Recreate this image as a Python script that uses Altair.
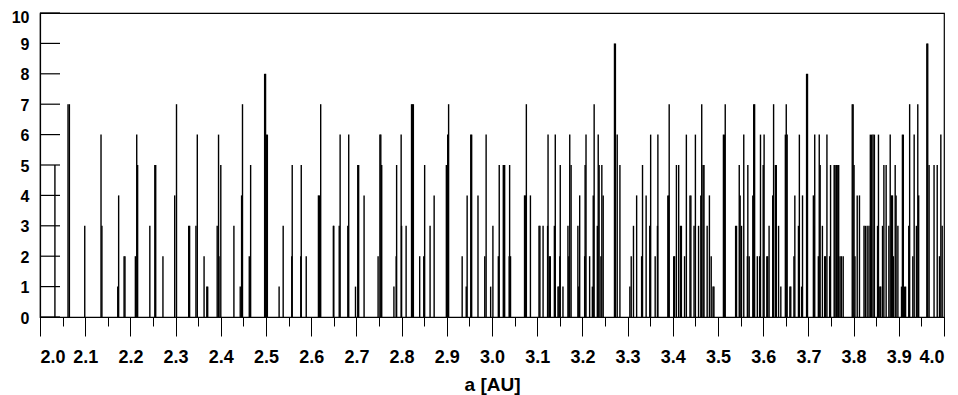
import altair as alt
import pandas as pd

# Semi-major axis positions (AU) of the spikes and their heights (counts)
A = [2.033, 2.062, 2.065, 2.099, 2.135, 2.137, 2.172, 2.174, 2.186, 2.188,
     2.211, 2.214, 2.216, 2.243, 2.254, 2.256, 2.272, 2.298, 2.302, 2.329,
     2.331, 2.345, 2.348, 2.363, 2.369, 2.371, 2.392, 2.395, 2.396, 2.400,
     2.429, 2.443, 2.446, 2.448, 2.463, 2.466, 2.497, 2.499, 2.501, 2.503,
     2.529, 2.538, 2.557, 2.558, 2.577, 2.578, 2.589, 2.616, 2.618, 2.621,
     2.649, 2.650, 2.662, 2.664, 2.681, 2.683, 2.698, 2.703, 2.705, 2.717,
     2.748, 2.752, 2.754, 2.756, 2.783, 2.788, 2.789, 2.799, 2.800, 2.810,
     2.822, 2.824, 2.826, 2.840, 2.849, 2.851, 2.863, 2.872, 2.899, 2.902,
     2.904, 2.934, 2.943, 2.945, 2.953, 2.955, 2.969, 2.984, 2.987, 2.997,
     3.002, 3.014, 3.016, 3.025, 3.028, 3.038, 3.039, 3.041, 3.072, 3.074,
     3.076, 3.085, 3.104, 3.106, 3.113, 3.123, 3.124, 3.127, 3.129, 3.138,
     3.140, 3.146, 3.148, 3.150, 3.151, 3.157, 3.168, 3.170, 3.172, 3.175,
     3.190, 3.192, 3.194, 3.205, 3.206, 3.208, 3.216, 3.222, 3.224, 3.226,
     3.233, 3.235, 3.237, 3.241, 3.243, 3.246, 3.271, 3.273, 3.277, 3.283,
     3.305, 3.308, 3.313, 3.320, 3.331, 3.333, 3.341, 3.349, 3.351, 3.361,
     3.366, 3.367, 3.389, 3.391, 3.392, 3.402, 3.404, 3.408, 3.413, 3.417,
     3.419, 3.426, 3.430, 3.438, 3.440, 3.447, 3.450, 3.457, 3.462, 3.464,
     3.467, 3.469, 3.476, 3.481, 3.485, 3.489, 3.491, 3.512, 3.514, 3.516,
     3.539, 3.541, 3.547, 3.549, 3.552, 3.557, 3.565, 3.566, 3.569, 3.577,
     3.579, 3.581, 3.587, 3.592, 3.594, 3.600, 3.602, 3.608, 3.610, 3.613,
     3.621, 3.623, 3.627, 3.629, 3.634, 3.639, 3.649, 3.651, 3.653, 3.659,
     3.661, 3.668, 3.670, 3.678, 3.680, 3.685, 3.687, 3.696, 3.698, 3.711,
     3.712, 3.714, 3.722, 3.724, 3.726, 3.731, 3.736, 3.738, 3.741, 3.747,
     3.749, 3.757, 3.759, 3.762, 3.765, 3.767, 3.770, 3.773, 3.777, 3.797,
     3.799, 3.801, 3.803, 3.808, 3.813, 3.823, 3.826, 3.830, 3.834, 3.837,
     3.840, 3.843, 3.846, 3.853, 3.855, 3.858, 3.860, 3.864, 3.867, 3.872,
     3.878, 3.881, 3.884, 3.886, 3.888, 3.892, 3.894, 3.898, 3.906, 3.908,
     3.910, 3.913, 3.915, 3.922, 3.924, 3.931, 3.934, 3.939, 3.942, 3.944,
     3.962, 3.964, 3.967, 3.978, 3.985, 3.990, 3.993, 3.996]

N = [5, 7, 7, 3, 6, 3, 1, 4, 2, 2,
     2, 6, 5, 3, 5, 5, 2, 4, 7, 3,
     3, 3, 6, 2, 1, 1, 3, 6, 2, 5,
     3, 1, 4, 7, 2, 5, 8, 8, 6, 6,
     1, 3, 2, 5, 2, 5, 2, 4, 4, 7,
     3, 3, 3, 6, 3, 6, 1, 5, 5, 4,
     2, 6, 6, 5, 1, 2, 5, 6, 3, 3,
     7, 7, 7, 2, 2, 5, 3, 4, 5, 6,
     7, 2, 1, 4, 6, 6, 4, 2, 6, 1,
     3, 2, 5, 5, 5, 2, 5, 2, 4, 4,
     7, 4, 3, 3, 3, 3, 6, 2, 2, 3,
     6, 1, 1, 2, 5, 1, 3, 2, 6, 5,
     3, 1, 4, 2, 5, 6, 2, 1, 4, 7,
     3, 6, 5, 2, 5, 4, 9, 9, 6, 5,
     1, 2, 3, 4, 2, 5, 4, 3, 6, 2,
     3, 6, 4, 4, 7, 2, 2, 5, 5, 3,
     3, 2, 6, 4, 4, 3, 6, 3, 4, 7,
     5, 5, 3, 4, 2, 1, 1, 6, 6, 7,
     3, 3, 5, 4, 3, 6, 2, 5, 2, 4,
     7, 7, 2, 2, 6, 5, 6, 2, 2, 3,
     4, 7, 5, 5, 3, 1, 6, 7, 6, 1,
     1, 2, 4, 3, 6, 1, 4, 8, 8, 4,
     3, 6, 2, 6, 5, 3, 2, 2, 6, 2,
     5, 5, 5, 5, 5, 5, 2, 2, 2, 7,
     7, 5, 2, 4, 4, 3, 3, 3, 3, 6,
     6, 6, 6, 3, 6, 1, 1, 3, 5, 5,
     3, 6, 4, 4, 2, 5, 4, 3, 1, 6,
     6, 1, 1, 3, 7, 2, 6, 3, 7, 4,
     9, 9, 5, 5, 5, 2, 6, 3]

Y_TICKS = [0, 1, 2, 3, 4, 5, 6, 7, 8, 9, 10]
X_TICKS = [2.0, 2.05, 2.1, 2.15, 2.2, 2.25, 2.3, 2.35, 2.4, 2.45,
           2.5, 2.55, 2.6, 2.65, 2.7, 2.75, 2.8, 2.85, 2.9, 2.95,
           3.0, 3.05, 3.1, 3.15, 3.2, 3.25, 3.3, 3.35, 3.4, 3.45,
           3.5, 3.55, 3.6, 3.65, 3.7, 3.75, 3.8, 3.85, 3.9, 3.95, 4.0]

df = pd.DataFrame({"a": A, "n": N})
ticks_df = pd.DataFrame({"v": Y_TICKS})

FONT = "Liberation Sans"
x_scale = alt.Scale(domain=[2.0, 4.0], nice=False, zero=False)
y_scale = alt.Scale(domain=[0, 10], nice=False)

major = "abs(round(datum.value*100) % 10) < 0.5"

y_axis = alt.Axis(values=Y_TICKS, ticks=False, labelPadding=11,
                  labelOverlap=False, labelFontSize=16, labelFont=FONT,
                  labelOffset={"condition": {"test": "datum.value == 10", "value": 4}, "value": 1},
                  labelColor="black", labelFontWeight="bold", grid=False,
                  domainColor="black", domainWidth=1.2)

spikes = alt.Chart(df).mark_rule(color="black", strokeWidth=1.4).encode(
    x=alt.X("a:Q", scale=x_scale, title="a [AU]",
            axis=alt.Axis(values=X_TICKS,
                          tickSize={"condition": {"test": major, "value": 19}, "value": 9},
                          tickColor="black", tickWidth=1,
                          labelExpr="(abs(round(datum.value*100) % 10) < 0.5) ? format(datum.value, '.1f') : ''",
                          labelOverlap=False, labelPadding=12, labelFontSize=18,
                          labelFont=FONT, labelColor="black", labelFontWeight="bold",
                          titleFont=FONT, titleFontSize=19, titleFontWeight="bold",
                          titleColor="black", titlePadding=9, grid=False,
                          domainColor="black", domainWidth=1.2)),
    y=alt.Y("n:Q", scale=y_scale, title=None, axis=y_axis),
    y2=alt.datum(0),
)

ytick_marks = alt.Chart(ticks_df).mark_rule(color="black", strokeWidth=1.2).encode(
    y=alt.Y("v:Q", scale=y_scale, title=None, axis=y_axis),
    x=alt.value(0),
    x2=alt.value(20),
)

chart = alt.layer(spikes, ytick_marks).properties(
    width=904, height=304,
    autosize=alt.AutoSizeParams(type="none"),
    padding={"left": 32, "top": 5, "right": 6, "bottom": 80},
).configure_view(stroke="black", strokeWidth=1.2)

chart.save("out.html", embed_options={"renderer": "svg", "actions": False})
